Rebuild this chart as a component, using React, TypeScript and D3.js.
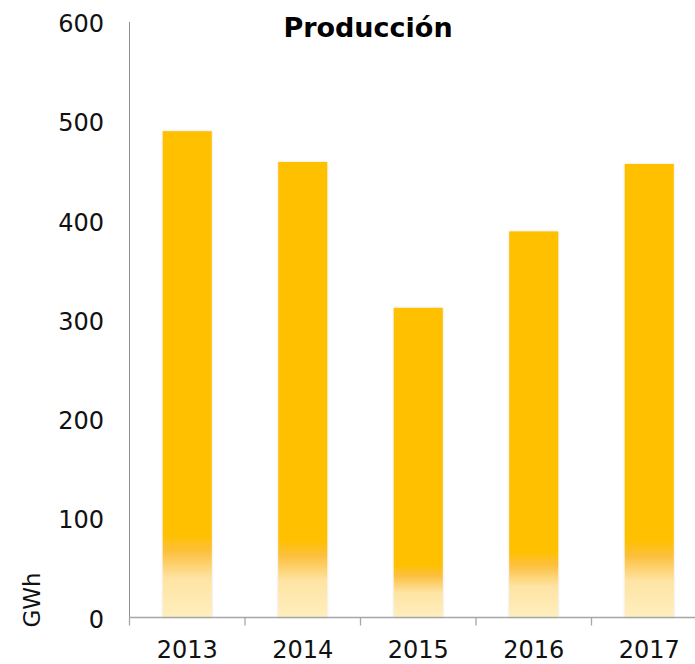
import React from "react";
import * as d3 from "d3";

const years = ["2013", "2014", "2015", "2016", "2017"];
const production = [490, 459, 312, 389, 457];
const yTicks = [0, 100, 200, 300, 400, 500, 600];
const title = "Producción";
const yLabel = "GWh";

export default function App() {
  const W = 695;
  const H = 664;
  const x = d3
    .scaleBand<string>()
    .domain(years)
    .range([129.5, 707])
    .paddingInner(0.575)
    .paddingOuter(0.2875);
  const y = d3.scaleLinear().domain([0, 600]).range([617.5, 22]);
  const step = x.step();
  const boundaries = years.map((_, i) => 129.5 + i * step).concat([129.5 + years.length * step]);
  const font = "'DejaVu Sans', Verdana, sans-serif";

  return (
    <svg
      width={W}
      height={H}
      style={{ position: "absolute", left: 0, top: 0, background: "#fff" }}
    >
      <defs>
        <linearGradient id="barGrad" x1="0" y1="0" x2="0" y2="1">
          <stop offset="0" stopColor="#FFC000" />
          <stop offset="0.83" stopColor="#FFC000" />
          <stop offset="0.865" stopColor="#FCC03E" />
          <stop offset="0.92" stopColor="#FEE4A4" />
          <stop offset="1" stopColor="#FFEEBE" />
        </linearGradient>
        <filter id="shadow" x="-10%" y="-10%" width="120%" height="120%">
          <feDropShadow dx="0" dy="0" stdDeviation="1" floodColor="#000" floodOpacity="0.15" />
        </filter>
      </defs>

      {/* bars */}
      {years.map((yr, i) => (
        <rect
          key={yr}
          x={x(yr)}
          y={y(production[i])}
          width={x.bandwidth()}
          height={y(0) - y(production[i])}
          fill="url(#barGrad)"
          filter="url(#shadow)"
        />
      ))}

      {/* y axis line */}
      <line x1={129.5} x2={129.5} y1={y(600)} y2={y(0)} stroke="#8c8c8c" strokeWidth={1} />
      {/* x axis line */}
      <line x1={129.5} x2={W} y1={y(0)} y2={y(0)} stroke="#a6a6a6" strokeWidth={1.3} />
      {boundaries.map((bx, i) => (
        <line key={i} x1={bx} x2={bx} y1={y(0)} y2={y(0) + 8} stroke="#a6a6a6" strokeWidth={1.3} />
      ))}

      {/* y tick labels */}
      {yTicks.map((t) => (
        <text
          key={t}
          x={104}
          y={y(t) + 10}
          textAnchor="end"
          fontFamily={font}
          fontSize={24}
          fill="#111"
        >
          {t}
        </text>
      ))}

      {/* x labels */}
      {years.map((yr) => (
        <text
          key={yr}
          x={(x(yr) as number) + x.bandwidth() / 2}
          y={658}
          textAnchor="middle"
          fontFamily={font}
          fontSize={24}
          fill="#111"
        >
          {yr}
        </text>
      ))}

      {/* y label */}
      <text
        transform={`translate(40, 600) rotate(-90)`}
        textAnchor="middle"
        fontFamily={font}
        fontSize={23}
        fill="#111"
      >
        {yLabel}
      </text>

      {/* title */}
      <text
        x={368}
        y={37}
        textAnchor="middle"
        fontFamily={font}
        fontWeight="bold"
        fontSize={27}
        fill="#000"
      >
        {title}
      </text>
    </svg>
  );
}
